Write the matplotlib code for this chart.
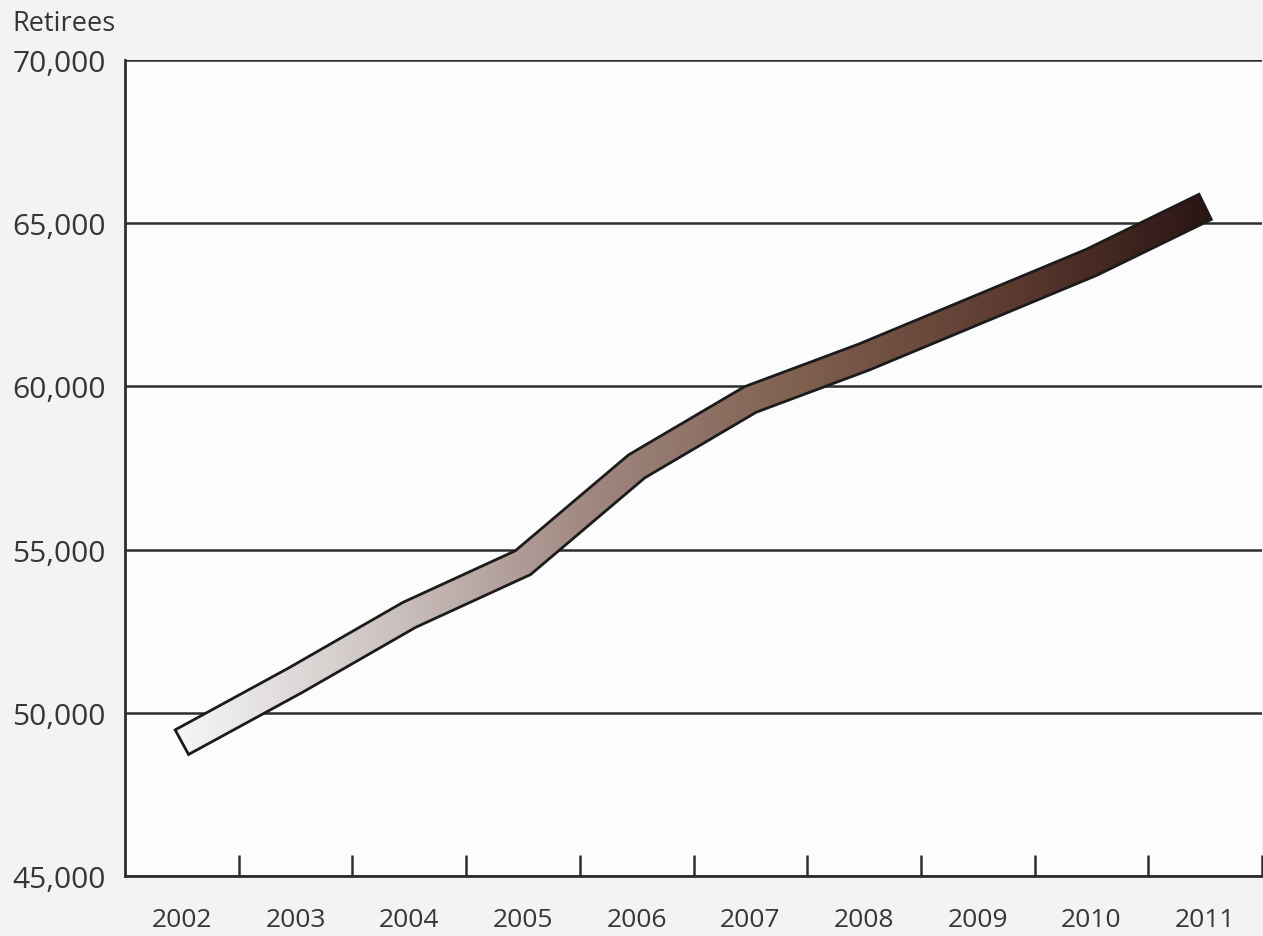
import numpy as np
import matplotlib.pyplot as plt
from matplotlib.colors import LinearSegmentedColormap
from matplotlib.patches import Polygon

plt.rcParams["font.family"] = ["Open Sans", "DejaVu Sans"]

years = ["2002", "2003", "2004", "2005", "2006", "2007", "2008", "2009", "2010", "2011"]
retirees = [49100, 51000, 53000, 54600, 57550, 59600, 60900, 62350, 63800, 65500]
y_ticks = [45000, 50000, 55000, 60000, 65000, 70000]

# light grey at the start fading into dark brown at the end
ribbon_colors = ["#f6f6f8", "#cdc4c2", "#a08780", "#80604f", "#5e3b31", "#2a1513"]

TEXT = "#363636"
LINE = "#2e2e2e"


def ribbon_outline(pts, half_w):
    """Offset a polyline (pixel coords) on both sides with mitred joins."""
    d = np.diff(pts, axis=0)
    n = np.column_stack([-d[:, 1], d[:, 0]]) / np.hypot(d[:, 0], d[:, 1])[:, None]
    normals = np.empty_like(pts)
    normals[0] = n[0]
    normals[-1] = n[-1]
    for i in range(1, len(pts) - 1):
        m = n[i - 1] + n[i]
        m /= np.linalg.norm(m)
        normals[i] = m / np.dot(m, n[i])
    left = pts + half_w * normals
    right = pts - half_w * normals
    return np.vstack([left, right[::-1]])


def main():
    fig = plt.figure(figsize=(12.63, 9.37), dpi=100, facecolor="#f3f3f3")
    ax = fig.add_axes([125 / 1263, 60 / 937, 1137 / 1263, 816 / 937])
    ax.set_facecolor("#fcfcfc")
    ax.set_xlim(-0.5, 9.5)
    ax.set_ylim(45000, 70000)

    x = np.arange(len(years), dtype=float)
    pts = ax.transData.transform(np.column_stack([x, retirees]))
    poly = ax.transData.inverted().transform(ribbon_outline(pts, 14.0))

    band = Polygon(poly, closed=True, facecolor="none", edgecolor="#1b1b1b",
                   lw=2.0, joinstyle="miter", zorder=4)
    ax.add_patch(band)

    cmap = LinearSegmentedColormap.from_list("ribbon", ribbon_colors)
    grad = np.linspace(0, 1, 512).reshape(1, -1)
    im = ax.imshow(grad, cmap=cmap, aspect="auto", interpolation="bicubic",
                   extent=(poly[:, 0].min(), poly[:, 0].max(), 45000, 70000),
                   zorder=3)
    im.set_clip_path(band)
    ax.set_xlim(-0.5, 9.5)
    ax.set_ylim(45000, 70000)

    ax.set_yticks(y_ticks)
    ax.set_yticklabels([f"{v:,}" for v in y_ticks])
    ax.grid(axis="y", color=LINE, lw=1.8)
    ax.set_axisbelow(True)

    ax.set_xticks(x)
    ax.set_xticklabels(years)
    ax.set_xticks(np.arange(0.5, len(years), 1.0), minor=True)
    ax.tick_params(axis="x", which="major", length=0, pad=22, labelsize=19,
                   labelcolor=TEXT)
    ax.tick_params(axis="x", which="minor", direction="in", length=15,
                   width=1.8, color=LINE)
    ax.tick_params(axis="y", length=0, pad=14, labelsize=21.5, labelcolor=TEXT)

    for side in ("top", "right"):
        ax.spines[side].set_visible(False)
    for side in ("left", "bottom"):
        ax.spines[side].set_color(LINE)
        ax.spines[side].set_linewidth(2)

    fig.text(12 / 1263, 1 - 24 / 937, "Retirees", ha="left", va="center",
             fontsize=19.5, color=TEXT)

    fig.savefig("out.png", dpi=100, facecolor=fig.get_facecolor())


if __name__ == "__main__":
    main()
